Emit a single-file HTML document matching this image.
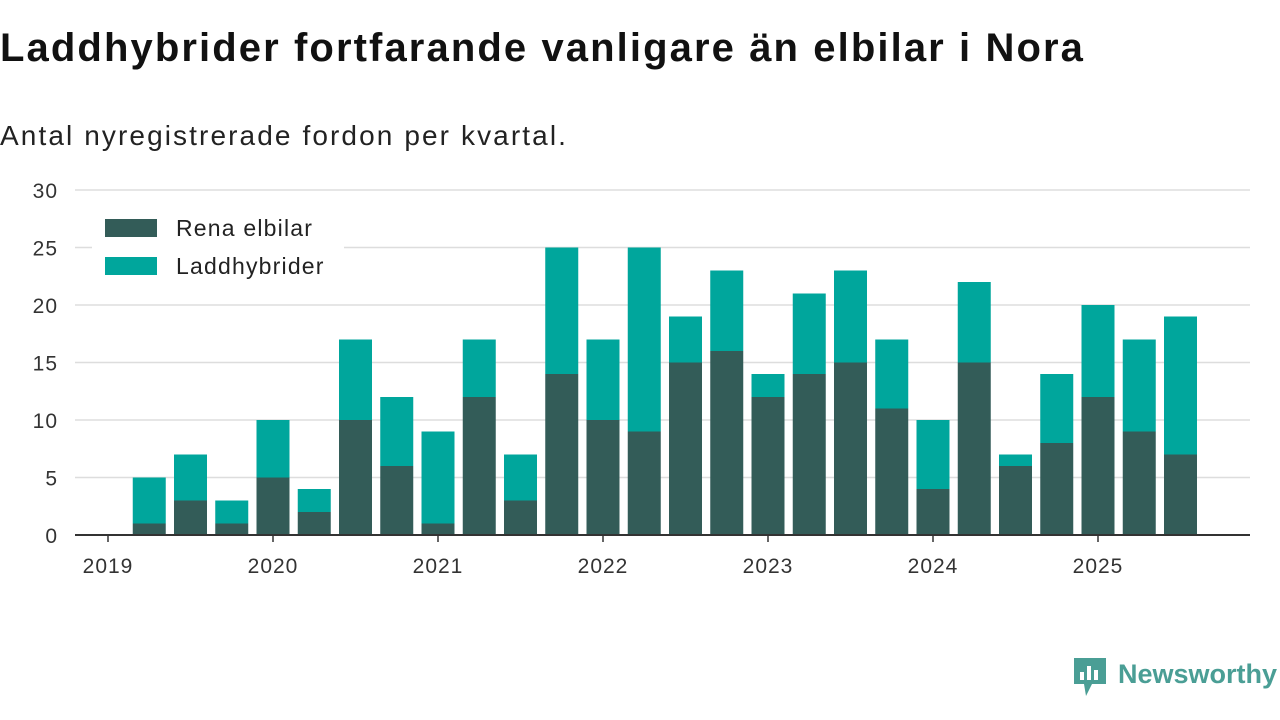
<!DOCTYPE html>
<html><head><meta charset="utf-8"><style>
body{margin:0;width:1280px;height:720px;background:#fff;font-family:"Liberation Sans",sans-serif;overflow:hidden;position:relative}
h1{position:absolute;left:0;top:26px;margin:0;font-size:40px;letter-spacing:2.1px;font-weight:bold;color:#111;white-space:nowrap}
.sub{position:absolute;left:0;top:120px;font-size:28px;letter-spacing:2.1px;color:#222;white-space:nowrap}
svg{position:absolute;left:0;top:0}
</style></head><body>
<h1>Laddhybrider fortfarande vanligare än elbilar i Nora</h1>
<div class="sub">Antal nyregistrerade fordon per kvartal.</div>
<svg id="c" width="1280" height="720"></svg>
<script>
const quarters=["2019Q2","2019Q3","2019Q4","2020Q1","2020Q2","2020Q3","2020Q4","2021Q1","2021Q2","2021Q3","2021Q4","2022Q1","2022Q2","2022Q3","2022Q4","2023Q1","2023Q2","2023Q3","2023Q4","2024Q1","2024Q2","2024Q3","2024Q4","2025Q1","2025Q2","2025Q3"];
const elbilar=[1,3,1,5,2,10,6,1,12,3,14,10,9,15,16,12,14,15,11,4,15,6,8,12,9,7];
const laddhybrider=[4,4,2,5,2,7,6,8,5,4,11,7,16,4,7,2,7,8,6,6,7,1,6,8,8,12];
const yTicks=[0,5,10,15,20,25,30];
const xYears=[2019,2020,2021,2022,2023,2024,2025];
const NS="http://www.w3.org/2000/svg",svg=document.getElementById('c');
const y=v=>535-v*11.5;
const xt=t=>108+(t-2019)*165;
const xq=q=>xt(+q.slice(0,4)+(+q.slice(5)-1)/4);
function mk(tag,a,p){const e=document.createElementNS(NS,tag);for(const k in a)e.setAttribute(k,a[k]);(p||svg).appendChild(e);return e;}
yTicks.forEach(v=>{
 if(v>0){const g=mk('line',{x1:75,x2:1250,y1:y(v),y2:y(v),stroke:'#ddd','stroke-width':1.5});
 
 }
 const t=mk('text',{x:58,y:y(v)+8,'text-anchor':'end','font-size':21,'letter-spacing':1,fill:'#333'});t.textContent=v;
 
 
});
quarters.forEach((q,i)=>{
 const cx=xq(q),w=33;
 const a=mk('rect',{x:cx-w/2,y:y(elbilar[i]),width:w,height:elbilar[i]*11.5,fill:'#335c58'});
 
 
 const b=mk('rect',{x:cx-w/2,y:y(elbilar[i]+laddhybrider[i]),width:w,height:laddhybrider[i]*11.5,fill:'#00a69c'});
 
 
});
const ax=mk('line',{x1:75,x2:1250,y1:535,y2:535,stroke:'#333','stroke-width':2});


xYears.forEach(yr=>{
 const tk=mk('line',{x1:xt(yr),x2:xt(yr),y1:535,y2:542,stroke:'#333','stroke-width':1.5});
 
 
 const t=mk('text',{x:xt(yr),y:573,'text-anchor':'middle','font-size':21,'letter-spacing':1,fill:'#333'});t.textContent=yr;
 
 
});
const lg=mk('g',{});


mk('rect',{x:92,y:205,width:252,height:82,fill:'#fff'},lg);
[["Rena elbilar","#335c58",228],["Laddhybrider","#00a69c",266]].forEach(([n,c,yy])=>{
 const r=mk('rect',{x:105,y:yy-9,width:52,height:18,fill:c},lg);
 
 
 const t=mk('text',{x:176,y:yy+8,'font-size':23,'letter-spacing':1.2,fill:'#222'},lg);t.textContent=n;
 
 
});
const logo=mk('g',{});


mk('path',{d:'M1074 658h32v26h-14l-6 12-2-12h-10z',fill:'#4a9e95'},logo);
[[1080,672,4,8],[1087,666,4,14],[1094,670,4,10]].forEach(b=>mk('rect',{x:b[0],y:b[1],width:b[2],height:b[3],fill:'#fff'},logo));
const lt=mk('text',{x:1118,y:683,'font-size':27,'font-weight':'bold',fill:'#4a9e95'},logo);lt.textContent='Newsworthy';
</script>
</body></html>
